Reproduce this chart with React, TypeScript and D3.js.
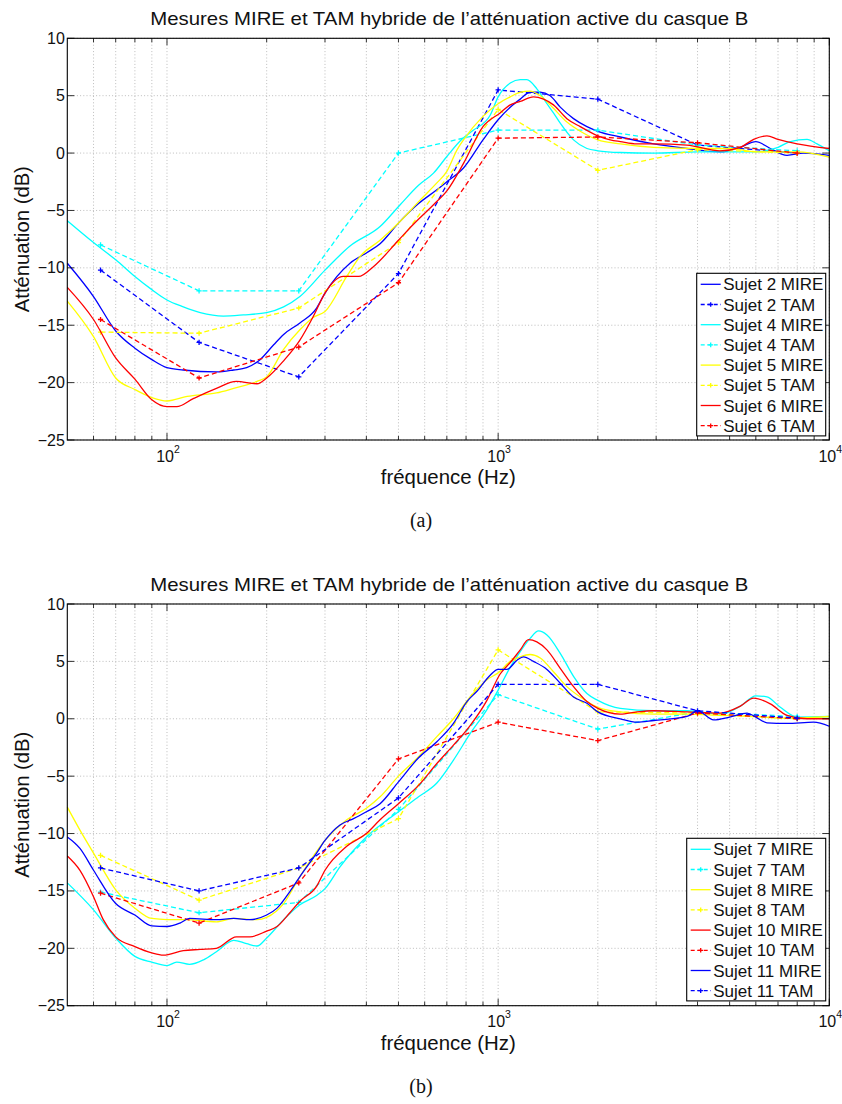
import React from 'react';
import * as d3 from 'd3';

// Two stacked log-frequency panels: MIRE (solid) vs hybrid TAM (dashed, + markers)

const WIDTH = 842;
const HEIGHT = 1104;
const PLOT_LEFT = 67.3;
const PLOT_RIGHT = 829.3;
const PLOT_H = 401.7;
const X_DOMAIN: [number, number] = [50, 10000];
const Y_DOMAIN: [number, number] = [-25, 10];
const Y_TICKS = [-25, -20, -15, -10, -5, 0, 5, 10];
const X_DECADES = [100, 1000, 10000];
const FONT = '"Liberation Sans", Arial, Helvetica, sans-serif';

const TITLE = 'Mesures MIRE et TAM hybride de l’atténuation active du casque B';
const X_LABEL = 'fréquence (Hz)';
const Y_LABEL = 'Atténuation (dB)';

const BLUE = '#0000ff';
const CYAN = '#00ffff';
const YELLOW = '#ffff00';
const RED = '#ff0000';

// TAM measured at octave centres
const TAM_FREQS = [63, 125, 250, 500, 1000, 2000, 4000, 8000];

// ----- panel (a) -----
const s2MireA: [number, number][] = [
  [50, -9.6], [60, -12.5], [70, -15.5], [80, -17], [90, -18], [100, -18.7], [112, -18.9],
  [141, -19.07], [159, -18.9], [174, -18.7], [191, -18.0], [210, -16.7], [225, -15.8],
  [252, -14.8], [283, -13.5], [300, -12.2], [357, -9.6], [400, -8.7], [440, -7.9],
  [500, -6.1], [575, -4.4], [653, -3.2], [700, -2.5], [786, -1.3], [900, 1.15],
  [1000, 2.9], [1088, 4.0], [1166, 4.7], [1249, 5.3], [1340, 5.3], [1436, 5.0],
  [1540, 4.0], [1689, 3.0], [1854, 2.3], [2000, 1.9], [2338, 1.4], [2950, 0.8],
  [3718, 0.4], [4686, 0.1], [5388, 0.5], [6000, 1.0], [6636, 0.4], [7455, -0.2],
  [8368, 0], [10000, -0.2],
];
const s2TamA = [-10.2, -16.5, -19.5, -10.5, 5.5, 4.7, 0.7, 0];

const s4MireA: [number, number][] = [
  [50, -5.9], [60, -7.8], [70, -9.3], [80, -10.75], [90, -11.9], [100, -12.8],
  [112, -13.4], [126, -13.9], [148, -14.2], [170, -14.1], [200, -13.9], [225, -13.4],
  [252, -12.5], [300, -10.2], [357, -8.1], [440, -6.4], [506, -4.5], [575, -2.8],
  [638, -1.75], [700, -0.3], [777, 1.2], [843, 2.0], [946, 3.3], [1000, 4.9],
  [1088, 6.1], [1166, 6.4], [1221, 6.4], [1309, 5.6], [1404, 4.3], [1469, 3.5],
  [1540, 2.6], [1689, 1.15], [1854, 0.4], [2000, 0.2], [2338, 0.05], [2950, 0],
  [4000, 0.1], [5000, 0.1], [6000, 0.1], [7000, 0.5], [7628, 1.0], [8565, 1.2],
  [9183, 0.8], [10000, 0.2],
];
const s4TamA = [-8, -12, -12, 0, 2, 2, 0.7, 0.2];

const s5MireA: [number, number][] = [
  [50, -12.9], [60, -16], [70, -19.6], [80, -20.6], [90, -21.3], [100, -21.6],
  [115, -21.2], [141, -20.9], [159, -20.5], [187, -19.9], [200, -19.5], [225, -17.1],
  [252, -15.4], [277, -14.3], [300, -13.8], [349, -10.75], [383, -9.0], [440, -7.6],
  [500, -6.1], [581, -4.1], [653, -2.6], [700, -1.6], [752, 0.3], [786, 1.15],
  [900, 3.2], [1000, 4.3], [1088, 4.9], [1166, 5.3], [1249, 5.4], [1340, 5.0],
  [1469, 3.9], [1613, 2.7], [1770, 1.9], [2000, 1.15], [2338, 0.8], [2950, 0.5],
  [4000, 0.4], [5000, 0.4], [6000, 0.1], [8000, 0.1], [10000, -0.35],
];
const s5TamA = [-15.6, -15.7, -13.5, -7.8, 3.8, -1.5, 0.3, 0];

const s6MireA: [number, number][] = [
  [50, -11.7], [60, -14.5], [70, -17.85], [80, -19.7], [90, -21.5], [100, -22.1],
  [107, -22.1], [120, -21.4], [141, -20.5], [162, -19.9], [187, -20.1], [200, -19.6],
  [225, -18.1], [252, -16.3], [277, -14.2], [300, -12.2], [341, -10.75], [379, -10.75],
  [420, -9.9], [500, -7.6], [555, -6.2], [638, -4.5], [700, -3.3], [786, -0.9],
  [900, 2.3], [1014, 3.5], [1088, 4.2], [1166, 4.5], [1278, 4.9], [1371, 4.7],
  [1469, 4.2], [1613, 3.0], [1770, 2.3], [2000, 1.5], [2180, 1.15], [2338, 1.0],
  [2626, 0.8], [2950, 0.8], [3718, 0.7], [4686, 0.2], [5388, 0.5], [5909, 1.2],
  [6482, 1.5], [7000, 1.2], [8000, 0.8], [10000, 0.4],
];
const s6TamA = [-14.5, -19.6, -16.9, -11.3, 1.3, 1.4, 0.9, 0];

// ----- panel (b) -----
const s7MireB: [number, number][] = [
  [50, -14.3], [60, -16.65], [70, -19.1], [80, -20.7], [90, -21.2], [100, -21.5],
  [107, -21.2], [117, -21.4], [129, -21.0], [141, -20.3], [159, -19.3], [174, -19.6],
  [187, -19.8], [200, -19.1], [225, -17.5], [252, -16.2], [283, -15.4], [300, -14.8],
  [333, -12.9], [400, -10.3], [500, -8.1], [575, -6.8], [653, -5.6], [733, -3.6],
  [823, -1.3], [925, 0.8], [1000, 2.5], [1088, 4.5], [1166, 5.85], [1249, 7.0],
  [1324, 7.65], [1404, 7.3], [1540, 5.7], [1689, 3.7], [1854, 2.2], [2000, 1.6],
  [2338, 0.9], [2950, 0.7], [3718, 0.7], [4686, 0.4], [5388, 1.1], [6000, 2.0],
  [6482, 1.9], [7114, 1.0], [8000, 0.15], [10000, 0.2],
];
const s7TamB = [-15.1, -16.9, -16, -7.9, 2.1, -0.9, 0.6, 0.2];

const s8MireB: [number, number][] = [
  [50, -7.7], [54.6, -9.7], [60, -11.7], [70, -14.9], [80, -16.5], [90, -17.4],
  [100, -17.5], [115, -17.5], [141, -17.7], [159, -17.4], [187, -17.5], [200, -17.3],
  [225, -16.1], [252, -13.75], [300, -10.6], [349, -8.8], [400, -7.8], [440, -6.8],
  [500, -5.0], [575, -3.3], [653, -1.56], [733, 0.0], [823, 1.9], [925, 3.4],
  [1000, 4.0], [1088, 5.0], [1166, 5.4], [1249, 5.6], [1340, 5.3], [1469, 4.1],
  [1613, 2.8], [1770, 1.9], [2000, 1.0], [2338, 0.6], [2950, 0.4], [3718, 0.4],
  [4686, 0.3], [5909, 0.2], [7455, 0.05], [10000, 0.2],
];
const s8TamB = [-11.9, -15.8, -13, -8.7, 6.0, 0.6, 0.5, 0];

const s10MireB: [number, number][] = [
  [50, -11.95], [54.6, -13.2], [60, -15.5], [64.2, -17.5], [70, -19], [80, -19.85],
  [90, -20.4], [97.5, -20.6], [112, -20.2], [126, -20.1], [141, -20.0], [162, -19.0],
  [178, -19.0], [200, -18.5], [215, -18.1], [235, -16.9], [252, -15.9], [283, -14.6],
  [300, -13.2], [349, -11.1], [400, -10.0], [440, -8.8], [500, -7.4], [575, -5.8],
  [653, -3.9], [733, -2.3], [823, -0.6], [925, 1.6], [1014, 3.9], [1088, 4.9],
  [1166, 6.0], [1235, 6.9], [1309, 6.7], [1404, 6.0], [1540, 4.4], [1689, 2.8],
  [1854, 1.5], [2000, 0.9], [2338, 0.4], [2626, 0.6], [2950, 0.7], [3718, 0.6],
  [4686, 0.5], [5388, 1.1], [5909, 1.8], [6636, 1.3], [7455, 0.3], [8565, 0],
  [10000, 0],
];
const s10TamB = [-15.2, -17.8, -14.3, -3.5, -0.3, -1.9, 0.5, 0];

const s11MireB: [number, number][] = [
  [50, -10.3], [54.6, -11.3], [60, -13.2], [70, -16.1], [80, -17.1], [90, -18.05],
  [100, -18.1], [109.5, -17.8], [117, -17.4], [141, -17.5], [159, -17.4], [178, -17.5],
  [200, -17.1], [215, -16.5], [235, -15.06], [252, -13.75], [283, -11.7], [300, -10.6],
  [333, -9.25], [366, -8.7], [400, -8.1], [440, -7.4], [500, -5.5], [575, -3.4],
  [653, -2.0], [733, -0.4], [805, 1.5], [863, 2.4], [946, 3.8], [1000, 4.3],
  [1063, 4.3], [1140, 5.1], [1193, 5.4], [1278, 5.0], [1404, 4.3], [1540, 3.1],
  [1689, 1.9], [1854, 1.35], [2000, 0.6], [2338, 0], [2626, -0.3], [2950, -0.15],
  [3718, 0.2], [4000, 0.7], [4474, -0.1], [5000, 0.15], [5645, 0.5], [6000, 0.15],
  [6482, -0.35], [7455, -0.4], [8973, -0.3], [10000, -0.65],
];
const s11TamB = [-13, -15, -13, -6.9, 3.0, 3.0, 0.7, 0.05];

type Series = { label: string; color: string; tam: boolean; data: [number, number][] };

const tam = (vals: number[]): [number, number][] => TAM_FREQS.map((f, i) => [f, vals[i]]);

const SERIES_A: Series[] = [
  { label: 'Sujet 2 MIRE', color: BLUE, tam: false, data: s2MireA },
  { label: 'Sujet 2 TAM', color: BLUE, tam: true, data: tam(s2TamA) },
  { label: 'Sujet 4 MIRE', color: CYAN, tam: false, data: s4MireA },
  { label: 'Sujet 4 TAM', color: CYAN, tam: true, data: tam(s4TamA) },
  { label: 'Sujet 5 MIRE', color: YELLOW, tam: false, data: s5MireA },
  { label: 'Sujet 5 TAM', color: YELLOW, tam: true, data: tam(s5TamA) },
  { label: 'Sujet 6 MIRE', color: RED, tam: false, data: s6MireA },
  { label: 'Sujet 6 TAM', color: RED, tam: true, data: tam(s6TamA) },
];

const SERIES_B: Series[] = [
  { label: 'Sujet 7 MIRE', color: CYAN, tam: false, data: s7MireB },
  { label: 'Sujet 7 TAM', color: CYAN, tam: true, data: tam(s7TamB) },
  { label: 'Sujet 8 MIRE', color: YELLOW, tam: false, data: s8MireB },
  { label: 'Sujet 8 TAM', color: YELLOW, tam: true, data: tam(s8TamB) },
  { label: 'Sujet 10 MIRE', color: RED, tam: false, data: s10MireB },
  { label: 'Sujet 10 TAM', color: RED, tam: true, data: tam(s10TamB) },
  { label: 'Sujet 11 MIRE', color: BLUE, tam: false, data: s11MireB },
  { label: 'Sujet 11 TAM', color: BLUE, tam: true, data: tam(s11TamB) },
];

const plus = (cx: number, cy: number, r = 2.6) => `M${cx - r},${cy}H${cx + r}M${cx},${cy - r}V${cy + r}`;

function Panel({
  top,
  series,
  legendLeft,
  legendTop,
  caption,
}: {
  top: number;
  series: Series[];
  legendLeft: number;
  legendTop: number;
  caption: string;
}) {
  const bottom = top + PLOT_H;
  const x = d3.scaleLog().domain(X_DOMAIN).range([PLOT_LEFT, PLOT_RIGHT]);
  const y = d3.scaleLinear().domain(Y_DOMAIN).range([bottom, top]);
  const smooth = d3
    .line<[number, number]>()
    .x((d) => x(d[0]))
    .y((d) => y(d[1]))
    .curve(d3.curveMonotoneX);
  const straight = d3
    .line<[number, number]>()
    .x((d) => x(d[0]))
    .y((d) => y(d[1]));

  const xTicks = x.ticks().filter((t) => t > X_DOMAIN[0]);
  const isDecade = (t: number) => X_DECADES.includes(t);

  const legendRight = 825.7;
  const rowH = 20.2;
  const legendH = series.length * rowH + 1;
  const cx = (PLOT_LEFT + PLOT_RIGHT) / 2;

  return (
    <g>
      <text
        x={cx + 1}
        y={top - 13.5}
        textAnchor="middle"
        fontFamily={FONT}
        fontSize={19}
        textLength={598}
        lengthAdjust="spacingAndGlyphs"
        fill="#111"
      >
        {TITLE}
      </text>

      {/* grid */}
      <g stroke="#a0a0a0" strokeWidth={0.7} strokeDasharray="1 2.2">
        {xTicks.map((t) => (
          <line key={`gx${t}`} x1={x(t)} x2={x(t)} y1={top} y2={bottom} />
        ))}
        {Y_TICKS.map((t) => (
          <line key={`gy${t}`} x1={PLOT_LEFT} x2={PLOT_RIGHT} y1={y(t)} y2={y(t)} />
        ))}
      </g>

      {/* series */}
      <g fill="none" strokeWidth={1.3}>
        {series.map((s) => (
          <g key={s.label} stroke={s.color}>
            <path
              d={(s.tam ? straight : smooth)(s.data) ?? ''}
              strokeDasharray={s.tam ? '5 3' : undefined}
            />
            {s.tam && s.data.map((d) => <path key={d[0]} d={plus(x(d[0]), y(d[1]))} />)}
          </g>
        ))}
      </g>

      {/* ticks */}
      <g stroke="#000" strokeWidth={0.8}>
        {xTicks.map((t) => {
          const len = isDecade(t) ? 7 : 4;
          return (
            <g key={`tx${t}`}>
              <line x1={x(t)} x2={x(t)} y1={bottom} y2={bottom - len} />
              <line x1={x(t)} x2={x(t)} y1={top} y2={top + len} />
            </g>
          );
        })}
        {Y_TICKS.map((t) => (
          <g key={`ty${t}`}>
            <line x1={PLOT_LEFT} x2={PLOT_LEFT + 7} y1={y(t)} y2={y(t)} />
            <line x1={PLOT_RIGHT} x2={PLOT_RIGHT - 7} y1={y(t)} y2={y(t)} />
          </g>
        ))}
      </g>
      <rect
        x={PLOT_LEFT}
        y={top}
        width={PLOT_RIGHT - PLOT_LEFT}
        height={PLOT_H}
        fill="none"
        stroke="#000"
        strokeWidth={1.1}
      />

      {/* tick labels */}
      <g fontFamily={FONT} fill="#111">
        {Y_TICKS.map((t) => (
          <text key={`ly${t}`} x={PLOT_LEFT - 2.5} y={y(t) + 5.5} textAnchor="end" fontSize={16}>
            {t < 0 ? `\u2212${-t}` : t}
          </text>
        ))}
        {X_DECADES.map((t) => (
          <text key={`lx${t}`} x={x(t) + 1} y={bottom + 21.5} textAnchor="middle" fontSize={16}>
            10
            <tspan fontSize={10.5} dy={-9}>
              {Math.round(Math.log10(t))}
            </tspan>
          </text>
        ))}
      </g>

      <text
        x={cx}
        y={bottom + 44}
        textAnchor="middle"
        fontFamily={FONT}
        fontSize={19.5}
        textLength={135}
        lengthAdjust="spacingAndGlyphs"
        fill="#111"
      >
        {X_LABEL}
      </text>
      <text
        transform={`translate(28.5,${(top + bottom) / 2}) rotate(-90)`}
        textAnchor="middle"
        fontFamily={FONT}
        fontSize={19.5}
        textLength={146}
        lengthAdjust="spacingAndGlyphs"
        fill="#111"
      >
        {Y_LABEL}
      </text>

      {/* legend */}
      <g>
        <rect
          x={legendLeft}
          y={legendTop}
          width={legendRight - legendLeft}
          height={legendH}
          fill="#fff"
          stroke="#000"
          strokeWidth={1.1}
        />
        {series.map((s, i) => {
          const ly = legendTop + 11 + i * rowH;
          const x0 = legendLeft + 4;
          const x1 = legendLeft + 24;
          return (
            <g key={`lg${s.label}`}>
              <line
                x1={x0}
                x2={x1}
                y1={ly}
                y2={ly}
                stroke={s.color}
                strokeWidth={1.3}
                strokeDasharray={s.tam ? '4 2.5' : undefined}
              />
              {s.tam && <path d={plus((x0 + x1) / 2, ly, 2.3)} stroke={s.color} strokeWidth={1.3} />}
              <text x={x1 + 2.5} y={ly + 6} fontFamily={FONT} fontSize={17} fill="#111">
                {s.label}
              </text>
            </g>
          );
        })}
      </g>

      <text
        x={421}
        y={bottom + 87}
        textAnchor="middle"
        fontFamily='"Liberation Serif", "DejaVu Serif", serif'
        fontSize={20}
        fill="#111"
      >
        {caption}
      </text>
    </g>
  );
}

export default function App() {
  return (
    <div style={{ position: 'absolute', left: 0, top: 0 }}>
      <svg width={WIDTH} height={HEIGHT} viewBox={`0 0 ${WIDTH} ${HEIGHT}`} style={{ display: 'block', background: '#fff' }}>
        <Panel top={38.3} series={SERIES_A} legendLeft={696.7} legendTop={273.3} caption="(a)" />
        <Panel top={604} series={SERIES_B} legendLeft={686.7} legendTop={838.3} caption="(b)" />
      </svg>
    </div>
  );
}
